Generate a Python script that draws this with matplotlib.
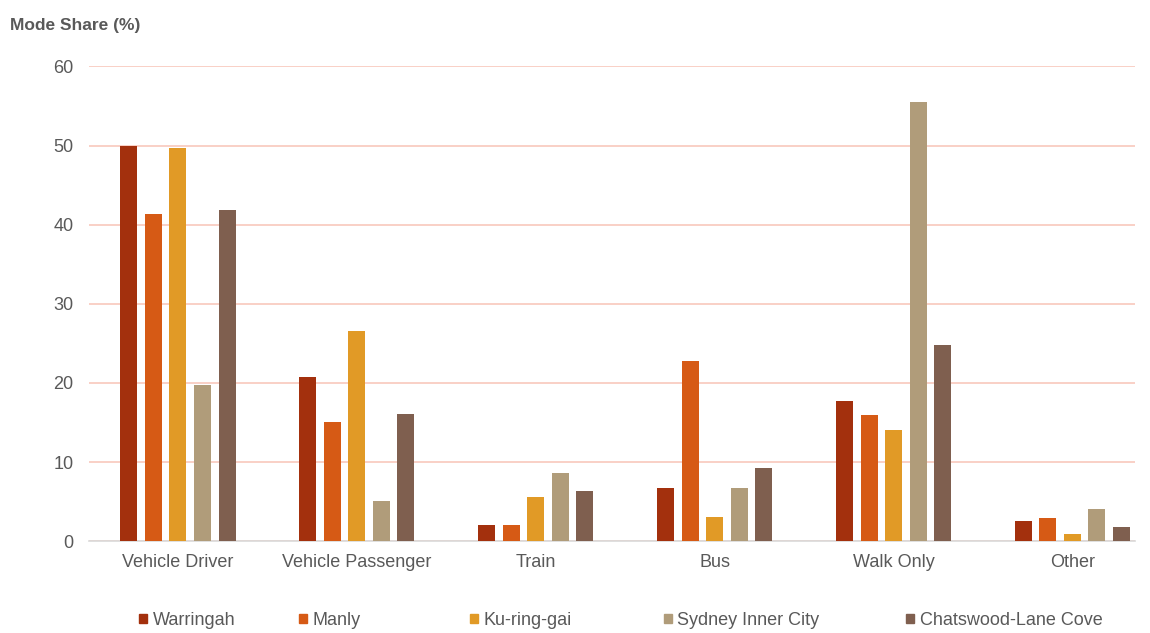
import numpy as np
import matplotlib.pyplot as plt
from matplotlib.patches import Patch

modes = ['Vehicle Driver', 'Vehicle Passenger', 'Train', 'Bus', 'Walk Only', 'Other']
regions = ['Warringah', 'Manly', 'Ku-ring-gai', 'Sydney Inner City', 'Chatswood-Lane Cove']

warringah = [50.0, 20.7, 2.1, 6.7, 17.7, 2.5]
manly = [41.4, 15.1, 2.1, 22.8, 15.9, 2.9]
kuringgai = [49.7, 26.6, 5.6, 3.0, 14.0, 0.9]
sydney_inner = [19.7, 5.1, 8.6, 6.7, 55.5, 4.1]
chatswood = [41.9, 16.1, 6.3, 9.2, 24.8, 1.8]

series = [warringah, manly, kuringgai, sydney_inner, chatswood]
colors = ['#A3300D', '#D65A15', '#E19A26', '#B09C7A', '#7F5F4F']
legend_x = [0.121, 0.260, 0.409, 0.577, 0.788]

plt.rcParams['font.family'] = ['Liberation Sans', 'DejaVu Sans']

fig = plt.figure(figsize=(11.5, 6.33), dpi=100)
ax = fig.add_axes([0.077, 0.145, 0.91, 0.75])

x = np.arange(len(modes))
pitch = 0.137
width = 0.095
for i, (vals, c) in enumerate(zip(series, colors)):
    ax.bar(x + (i - 2) * pitch, vals, width, color=c, label=regions[i], zorder=3)

ax.set_ylim(0, 60)
ax.set_xlim(-0.5, 5.35)
ax.set_yticks(np.arange(0, 61, 10))
ax.yaxis.grid(True, color='#F8C8BC', linewidth=1.2, zorder=0)
ax.set_axisbelow(True)
for s in ['top', 'right', 'left']:
    ax.spines[s].set_visible(False)
ax.spines['bottom'].set_color('#D9D9D9')
ax.spines['bottom'].set_linewidth(1.2)
ax.set_xticks(x)
ax.set_xticklabels(modes)
ax.tick_params(axis='both', length=0, labelsize=13, colors='#595959', pad=9)
ax.tick_params(axis='y', pad=11)

fig.text(0.009, 0.952, 'Mode Share (%)', fontsize=12.5, fontweight='bold', color='#595959')

# one legend per region so each entry sits at its own x position
for name, c, lx in zip(regions, colors, legend_x):
    fig.legend(handles=[Patch(color=c, label=name)], loc='center left',
               bbox_to_anchor=(lx, 0.02), frameon=False,
               prop={'size': 13},
               handlelength=0.45, handleheight=0.45, handletextpad=0.3,
               labelcolor='#595959', borderpad=0, borderaxespad=0)

fig.savefig('out.png', dpi=100)
